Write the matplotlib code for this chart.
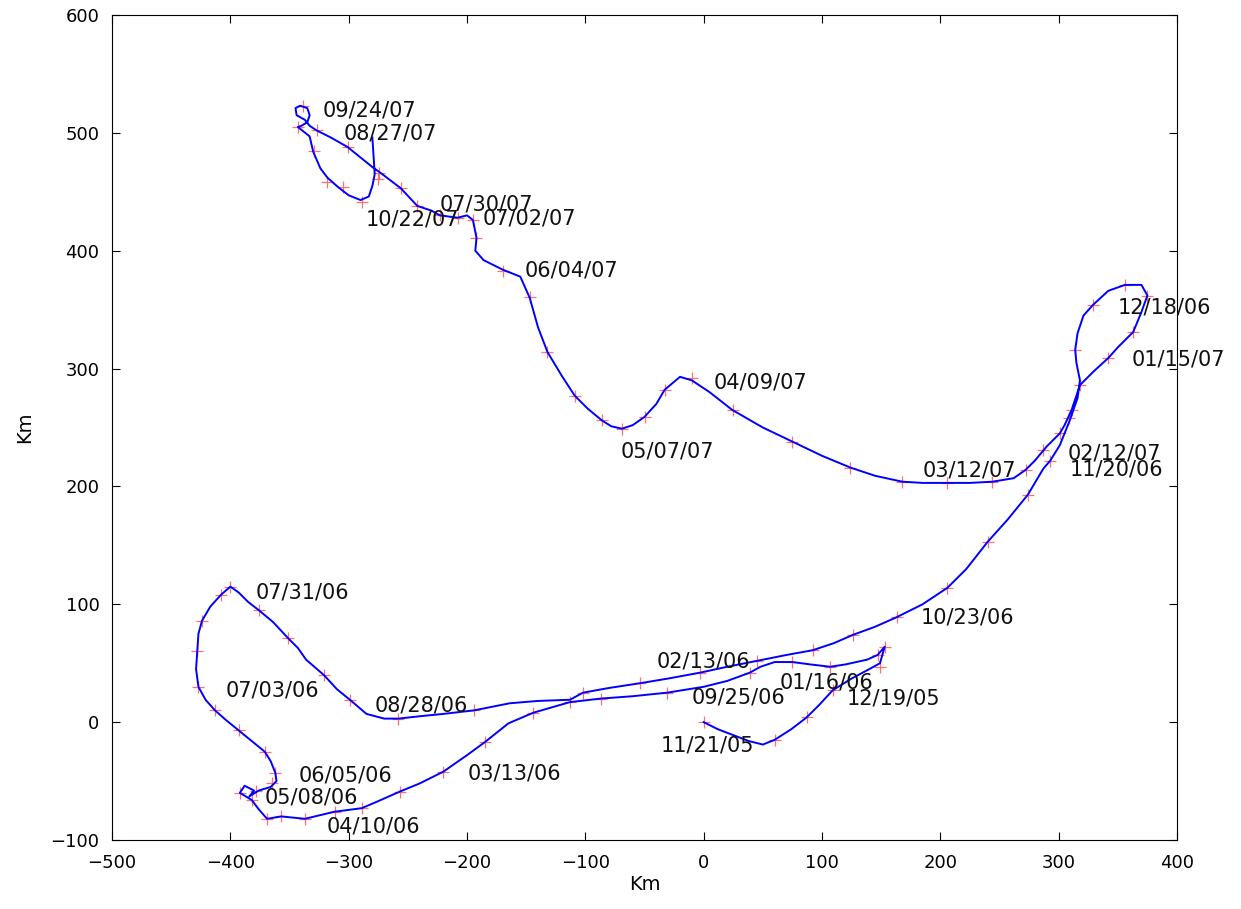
import matplotlib

matplotlib.use('Agg')
import matplotlib.pyplot as plt  # noqa: E402

# Daily drift track (Km east / Km north of the start point)
track_x = [0, 12, 25, 38, 50, 60, 74, 87, 98, 109, 125, 140, 149, 153, 147, 138, 120, 107, 90, 75,
           60, 48, 39, 20, 0, -31, -60, -87, -113, -144, -165, -185, -200, -220, -240, -257, -275,
           -289, -312, -337, -357, -369, -376, -382, -392, -388, -380, -384, -376, -366, -361, -362,
           -366, -371, -382, -393, -404, -413, -421, -427, -429, -428, -427, -424, -417, -408, -400,
           -393, -385, -376, -364, -351, -343, -336, -321, -310, -299, -285, -270, -258, -240, -220,
           -194, -164, -140, -113, -102, -80, -54, -30, -3, 20, 45, 70, 92, 110, 126, 145, 163, 185,
           206, 222, 240, 257, 274, 287, 293, 301, 309, 316, 318, 315, 314, 316, 321, 329, 342, 356,
           370, 375, 370, 363, 350, 342, 330, 318, 311, 305, 301, 290, 280, 272, 262, 244, 225, 206,
           185, 168, 145, 124, 100, 75, 50, 24, 5, -10, -20, -33, -40, -50, -60, -69, -78, -86, -98,
           -109, -120, -132, -140, -147, -155, -170, -186, -193, -192, -195, -200, -208, -223, -230,
           -242, -256, -273, -280, -301, -315, -327, -333, -337, -344, -345, -341, -335, -333, -335,
           -340, -343, -333, -330, -324, -318, -309, -300, -290, -283, -280, -278, -279, -280]
track_y = [0, -6, -11, -16, -19, -15, -6, 4, 15, 27, 37, 45, 50, 64, 57, 53, 49, 47, 49, 51,
           51, 47, 42, 35, 30, 25, 22, 20, 17, 8, -1, -17, -28, -42, -52, -59, -67,
           -73, -76, -82, -80, -82, -74, -66, -60, -54, -58, -63, -58, -55, -50, -43,
           -33, -25, -16, -7, 2, 10, 19, 30, 45, 60, 75, 86, 98, 108, 115,
           110, 102, 95, 85, 71, 63, 53, 40, 28, 19, 7, 3, 3, 5, 7,
           10, 16, 18, 19, 25, 29, 33, 37, 42, 47, 52, 57, 61, 67, 74, 81, 89, 100,
           114, 130, 153, 172, 193, 215, 222, 235, 255, 275, 290, 305, 316, 330, 345, 354, 366, 371,
           371, 362, 348, 331, 318, 309, 298, 286, 265, 252, 245, 234, 222, 214, 207, 204, 203, 203,
           203, 204, 209, 216, 226, 238, 250, 265, 280, 290, 293, 282, 270, 259, 252, 249, 251, 256, 266,
           277, 294, 314, 335, 360, 378, 384, 392, 400, 411, 426, 430, 428, 430, 434,
           438, 453, 466, 471, 488, 496, 502, 506, 511, 515, 521, 523, 521, 515, 509,
           506, 505, 497, 484, 470, 462, 454, 447, 443, 446, 455, 465, 480, 496]

# Weekly fixes (red crosses)
week_x = [0, 60, 87, 109, 149, 153, 147, 107, 75, 39, -31, -87, -113, -144, -185, -220, -257, -289,
          -312, -337, -357, -369, -382, -392, -378, -365, -362, -371, -393, -413, -427, -428, -424,
          -408, -400, -376, -351, -321, -299, -258, -194, -102, -54, -3, 45, 92, 126, 163, 206, 240,
          274, 293, 318, 314, 329, 356, 375, 363, 342, 311, 309, 301, 287, 272, 244, 206, 168, 124,
          75, 25, -10, -33, -50, -69, -86, -109, -132, -147, -170, -192, -195, -208, -223, -242,
          -256, -274, -301, -327, -339, -343, -329, -318, -305, -289, -275]
week_y = [0, -15, 4, 27, 47, 64, 57, 47, 51, 42, 25, 20, 17, 8, -17, -42, -59, -73,
          -76, -82, -80, -82, -66, -60, -58, -52, -43, -25, -7, 10, 30, 60, 86,
          108, 115, 95, 71, 40, 19, 3, 10, 25, 33, 42, 52, 61, 74, 89, 114, 153,
          193, 222, 286, 316, 354, 371, 362, 331, 309, 265, 258, 245, 231, 214, 204, 203, 204, 216,
          238, 265, 292, 282, 259, 249, 256, 277, 314, 361, 383, 411, 426, 428, 430, 438,
          453, 466, 488, 502, 523, 505, 485, 458, 454, 441, 461]

# Date labels and where they sit (data coords, left edge / vertical centre)
date_labels = ['11/21/05', '12/19/05', '01/16/06', '02/13/06', '03/13/06', '04/10/06', '05/08/06',
               '06/05/06', '07/03/06', '07/31/06', '08/28/06', '09/25/06', '10/23/06', '11/20/06',
               '12/18/06', '01/15/07', '02/12/07', '03/12/07', '04/09/07', '05/07/07', '06/04/07',
               '07/02/07', '07/30/07', '08/27/07', '09/24/07', '10/22/07']
label_x = [-36.1, 121.1, 64.5, -39.5, -199.2, -318.3, -370.7,
           -342.0, -403.7, -378.3, -277.8, -9.9, 183.6, 309.6,
           350.1, 361.9, 307.9, 185.3, 8.7, -69.9, -151.0,
           -186.5, -222.8, -304.0, -321.7, -285.4]
label_y = [-19.5, 20.4, 33.9, 51.8, -43.3, -88.2, -63.6,
           -45.0, 27.2, 110.3, 14.4, 21.2, 89.1, 214.7,
           352.1, 308.0, 228.2, 213.8, 288.5, 229.9, 383.5,
           427.6, 439.5, 499.8, 519.3, 426.8]

x_ticks = [-500, -400, -300, -200, -100, 0, 100, 200, 300, 400]
y_ticks = [-100, 0, 100, 200, 300, 400, 500, 600]

plt.rcParams['font.family'] = ['DejaVu Sans']

fig = plt.figure(figsize=(12.41, 9.09), dpi=100)
ax = fig.add_axes([0.0903, 0.0759, 0.8581, 0.9076])

ax.plot(week_x, week_y, ls='none', marker='+', ms=9, mew=0.9, color='#ff4d4d', alpha=0.8, zorder=2)
ax.plot(track_x, track_y, color='#0000ff', lw=1.4, zorder=3)

for lab, lx, ly in zip(date_labels, label_x, label_y):
    ax.text(lx, ly, lab, fontsize=15, ha='left', va='center', color='#111111', zorder=4)

ax.set_xlim(-500, 400)
ax.set_ylim(-100, 600)
ax.set_xticks(x_ticks)
ax.set_yticks(y_ticks)
ax.tick_params(direction='in', top=True, right=True, length=6, width=0.8, labelsize=13)
ax.tick_params(axis='x', pad=10)
ax.tick_params(axis='y', pad=9)
for spine in ax.spines.values():
    spine.set_linewidth(0.8)
ax.set_xlabel('Km', fontsize=14, labelpad=2)
ax.set_ylabel('Km', fontsize=14, labelpad=12)

fig.savefig('out.png', dpi=100)
